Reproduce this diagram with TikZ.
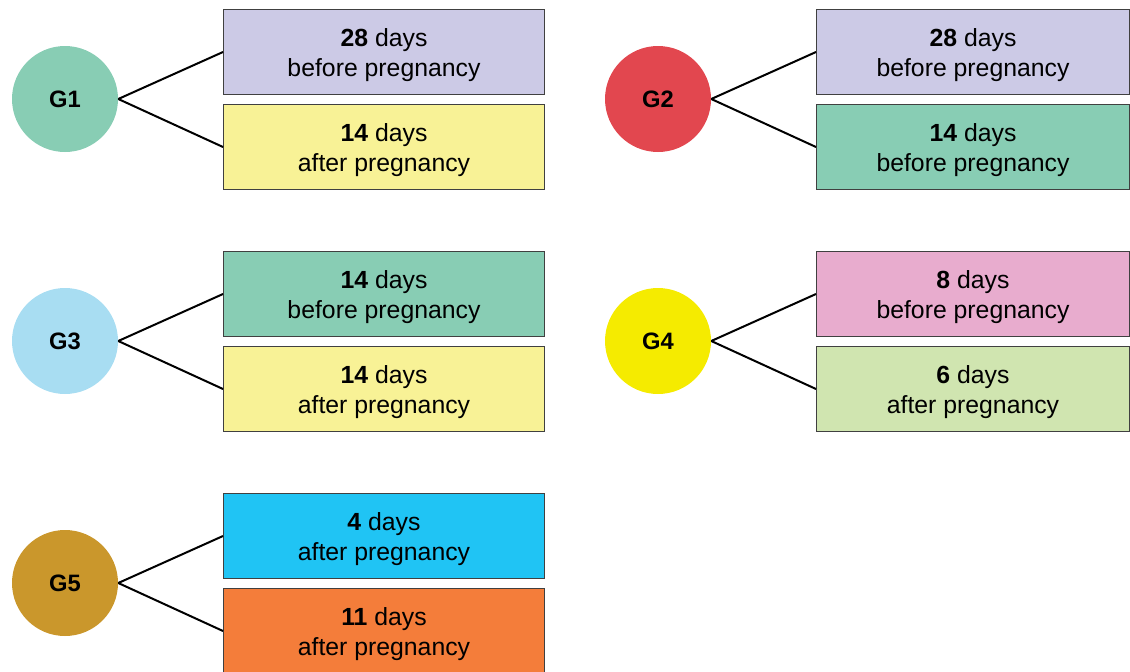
\documentclass[tikz,border=0pt]{standalone}
\usepackage{fontspec}
\setmainfont{Liberation Sans}

\definecolor{mint}{HTML}{88CDB4}
\definecolor{lavender}{HTML}{CCCAE6}
\definecolor{paleyellow}{HTML}{F8F296}
\definecolor{grpred}{HTML}{E2474F}
\definecolor{skyblue}{HTML}{A8DDF2}
\definecolor{grpyellow}{HTML}{F5EB00}
\definecolor{pink}{HTML}{E8ACCE}
\definecolor{palegreen}{HTML}{D0E5B0}
\definecolor{gold}{HTML}{CA972C}
\definecolor{cyan}{HTML}{20C4F4}
\definecolor{orange}{HTML}{F47D3A}

\newcommand{\stagetext}[2]{\rule{0pt}{18pt}\textbf{#1} days\\#2 pregnancy}

\tikzset{
	grp/.style={circle, minimum size=79.5pt, inner sep=0pt, font=\fontsize{17.8}{21}\selectfont\bfseries},
	stagebox/.style={draw=black!75, line width=0.75pt, minimum width=240.75pt, minimum height=63.75pt,
		inner sep=0pt, anchor=north west, align=center, font=\fontsize{18.6}{22.3}\selectfont},
	rightbox/.style={stagebox, minimum width=234.75pt},
	link/.style={line width=1.5pt}
}

\begin{document}
\begin{tikzpicture}[x=0.75pt, y=-0.75pt]

	\clip (0,0) rectangle (1130,671);

	%G1
	\node[grp, fill=mint] (g1) at (65,99) {G1};
	\node[stagebox, fill=lavender] (g1a) at (223,9) {\stagetext{28}{before}};
	\node[stagebox, fill=paleyellow] (g1b) at (223,104) {\stagetext{14}{after}};
	\draw[link] (g1.east) -- (g1a.west);
	\draw[link] (g1.east) -- (g1b.west);

	%G2
	\node[grp, fill=grpred] (g2) at (658,99) {G2};
	\node[rightbox, fill=lavender] (g2a) at (816,9) {\stagetext{28}{before}};
	\node[rightbox, fill=mint] (g2b) at (816,104) {\stagetext{14}{before}};
	\draw[link] (g2.east) -- (g2a.west);
	\draw[link] (g2.east) -- (g2b.west);

	%G3
	\node[grp, fill=skyblue] (g3) at (65,341) {G3};
	\node[stagebox, fill=mint] (g3a) at (223,251) {\stagetext{14}{before}};
	\node[stagebox, fill=paleyellow] (g3b) at (223,346) {\stagetext{14}{after}};
	\draw[link] (g3.east) -- (g3a.west);
	\draw[link] (g3.east) -- (g3b.west);

	%G4
	\node[grp, fill=grpyellow] (g4) at (658,341) {G4};
	\node[rightbox, fill=pink] (g4a) at (816,251) {\stagetext{8}{before}};
	\node[rightbox, fill=palegreen] (g4b) at (816,346) {\stagetext{6}{after}};
	\draw[link] (g4.east) -- (g4a.west);
	\draw[link] (g4.east) -- (g4b.west);

	%G5
	\node[grp, fill=gold] (g5) at (65,583) {G5};
	\node[stagebox, fill=cyan] (g5a) at (223,493) {\stagetext{4}{after}};
	\node[stagebox, fill=orange] (g5b) at (223,588) {\stagetext{11}{after}};
	\draw[link] (g5.east) -- (g5a.west);
	\draw[link] (g5.east) -- (g5b.west);

\end{tikzpicture}
\end{document}
